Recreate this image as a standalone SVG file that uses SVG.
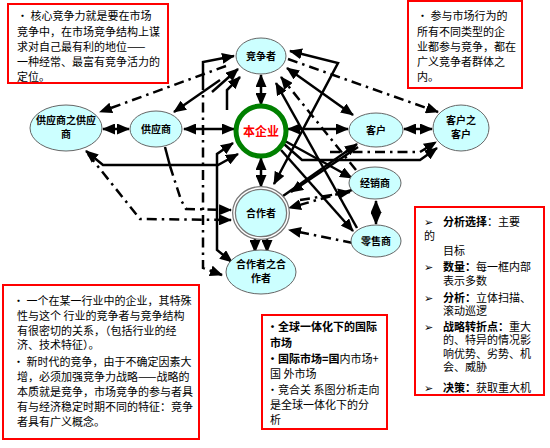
<svg xmlns="http://www.w3.org/2000/svg" width="550" height="448" viewBox="0 0 550 448">
<defs>
<marker id="ah" markerUnits="userSpaceOnUse" markerWidth="13" markerHeight="11" refX="12" refY="5.5" orient="auto-start-reverse">
<path d="M0,0 L13,5.5 L0,11 z" fill="#000"/>
</marker>
</defs>
<style>
.n{fill:#CCFFFF;stroke:#666;stroke-width:1}
.nt{font-family:"Noto Sans CJK SC",sans-serif;font-size:10px;font-weight:bold;fill:#000;text-anchor:middle}
.c path,.c line{fill:none;stroke:#000;stroke-width:2.5}
.c .d{stroke-dasharray:10 5 2.5 5}
.e{marker-end:url(#ah)}
.s{marker-start:url(#ah)}
.box{fill:#fff;stroke:#FF0000;stroke-width:2}
.t{font-family:"Noto Sans CJK SC",sans-serif;font-size:11px;fill:#000}
.b{font-weight:bold}
</style>
<rect width="550" height="448" fill="#fff"/>

<g class="c" id="connectors">
<line class="e s" x1="103" y1="129" x2="129" y2="129"/>
<line class="e s" x1="184" y1="129" x2="234" y2="129"/>
<line class="e s" x1="288" y1="129" x2="348" y2="129"/>
<line class="e s" x1="404" y1="129" x2="432" y2="129"/>
<line class="e s" x1="261" y1="75" x2="261" y2="105"/>
<line class="e s" x1="261" y1="158" x2="261" y2="187"/>
<line class="e s" x1="376" y1="201" x2="376" y2="224"/>
<line class="e" x1="255" y1="238" x2="255" y2="252"/>
<line class="e" x1="267" y1="238" x2="267" y2="252"/>
<path class="e" d="M203,80 L203,62 L234,56"/>
<path class="d e" d="M203,80 L203,268 L222,275"/>
<line class="e" x1="212" y1="92" x2="238" y2="69"/>
<path class="e" d="M227,110 L227,90 L240,77"/>
<line class="d e" x1="226" y1="66" x2="100" y2="112"/>
<line class="e" x1="220" y1="80" x2="174" y2="112"/>
<path class="e s" d="M86,151 L103,165 L218,165 L238,154"/>
<path class="e s" d="M233,143 L217,154 L217,250 L232,262"/>
<path d="M165,147 L170,166"/>
<path class="d e" d="M170,166 L181,200 L186,209 L231,210"/>
<path class="d e" d="M88,154 L140,219 L231,220"/>
<path class="e s" d="M290,51 L338,63 L274,184"/>
<line class="e s" x1="287" y1="68" x2="353" y2="115"/>
<line class="d e" x1="356" y1="170" x2="281" y2="77"/>
<line class="e" x1="357" y1="228" x2="276" y2="83"/>
<line class="d e" x1="288" y1="59" x2="438" y2="112"/>
<path class="e" d="M284,144 L302,160 L420,160 L437,148"/>
<path class="d e" d="M330,152 L420,152 L436,142"/>
<line class="e" x1="285" y1="141" x2="352" y2="178"/>
<line class="e" x1="281" y1="150" x2="353" y2="231"/>
<line class="e" x1="283" y1="196" x2="357" y2="144"/>
<line class="d e" x1="352" y1="190" x2="289" y2="208"/>
<line class="d e" x1="353" y1="243" x2="289" y2="230"/>
<line class="e" x1="358" y1="147" x2="291" y2="192"/>
<line class="d e" x1="300" y1="200" x2="350" y2="192"/>
</g>

<g id="n_competitor"><ellipse class="n" cx="261" cy="56" rx="25" ry="18"/><text class="nt" x="261" y="60">竞争者</text></g>
<g id="n_enterprise"><circle cx="261" cy="131" r="25" fill="#fff" stroke="#008000" stroke-width="5"/><text x="261" y="135.5" font-family="Noto Sans CJK SC,sans-serif" font-size="12" font-weight="bold" fill="#FF0000" text-anchor="middle">本企业</text></g>
<g id="n_supplier"><ellipse class="n" cx="156" cy="129" rx="26" ry="18"/><text class="nt" x="156" y="133">供应商</text></g>
<g id="n_supsup"><ellipse class="n" cx="66" cy="128" rx="36" ry="23"/><text class="nt" x="66" y="124">供应商之供应</text><text class="nt" x="66" y="138">商</text></g>
<g id="n_customer"><ellipse class="n" cx="376" cy="130" rx="27" ry="17"/><text class="nt" x="376" y="134">客户</text></g>
<g id="n_custcust"><ellipse class="n" cx="461" cy="128" rx="28" ry="23"/><text class="nt" x="461" y="124">客户之</text><text class="nt" x="461" y="138">客户</text></g>
<g id="n_distributor"><ellipse class="n" cx="375" cy="183" rx="26" ry="16"/><text class="nt" x="375" y="187">经销商</text></g>
<g id="n_retailer"><ellipse class="n" cx="376" cy="241" rx="25" ry="16"/><text class="nt" x="376" y="245">零售商</text></g>
<g id="n_cooperator"><ellipse cx="261" cy="213" rx="27" ry="25" fill="#CCFFFF" stroke="#777" stroke-width="4"/><ellipse cx="261" cy="213" rx="27" ry="25" fill="none" stroke="#fff" stroke-width="1.5"/><text class="nt" x="261" y="217">合作者</text></g>
<g id="n_coopcoop"><ellipse class="n" cx="261" cy="272" rx="35" ry="22"/><text class="nt" x="261" y="268">合作者之合</text><text class="nt" x="261" y="282">作者</text></g>

<g id="box_tl">
<rect class="box" x="8" y="4" width="160" height="79"/>
<text class="t" x="17" y="20">• 核心竞争力就是要在市场</text>
<text class="t" x="17" y="35.5">竞争中，在市场竞争结构上谋</text>
<text class="t" x="17" y="51">求对自己最有利的地位——</text>
<text class="t" x="17" y="66">一种经常、最富有竞争活力的</text>
<text class="t" x="17" y="80.5">定位。</text>
</g>
<g id="box_tr">
<rect class="box" x="408" y="1" width="114" height="87"/>
<text class="t" x="417" y="20" font-size="11.5">• 参与市场行为的</text>
<text class="t" x="417" y="36" font-size="11.5">所有不同类型的企</text>
<text class="t" x="417" y="51" font-size="11.5">业都参与竞争，都在</text>
<text class="t" x="417" y="66" font-size="11.5">广义竞争者群体之</text>
<text class="t" x="417" y="81" font-size="11.5">内。</text>
</g>
<g id="box_bl">
<rect class="box" x="3" y="285" width="196" height="154"/>
<text class="t" x="13" y="305">•  一个在某一行业中的企业，其特殊</text>
<text class="t" x="17" y="320">性与这个 行业的竞争者与竞争结构</text>
<text class="t" x="17" y="335">有很密切的关系，（包括行业的经</text>
<text class="t" x="17" y="349">济、技术特征）。</text>
<text class="t" x="13" y="366">• 新时代的竞争，由于不确定因素大</text>
<text class="t" x="17" y="381">增，必须加强竞争力战略——战略的</text>
<text class="t" x="17" y="396">本质就是竞争，市场竞争的参与者具</text>
<text class="t" x="17" y="411">有与经济稳定时期不同的特征：竞争</text>
<text class="t" x="17" y="426">者具有广义概念。</text>
</g>
<g id="box_bm">
<rect class="box" x="262" y="315" width="125" height="114"/>
<text class="t b" x="267" y="331" font-size="12">•全球一体化下的国际</text>
<text class="t b" x="270" y="347" font-size="12">市场</text>
<text class="t" x="267" y="363" font-size="12"><tspan font-weight="bold">•国际市场=国</tspan>内市场+</text>
<text class="t" x="270" y="378" font-size="12">国  外市场</text>
<text class="t" x="267" y="394" font-size="12">•竞合关 系图分析走向</text>
<text class="t" x="270" y="409" font-size="12">是全球一体化下的分</text>
<text class="t" x="270" y="424" font-size="12">析</text>
</g>
<g id="box_r">
<rect class="box" x="415" y="207" width="129" height="188"/>
<g class="t" font-size="11">
<text x="424" y="226">➢</text><text x="443" y="226"><tspan font-weight="bold">分析选择</tspan>：主要</text>
<text x="424" y="240">的</text>
<text x="443" y="255">目标</text>
<text x="424" y="271">➢</text><text x="443" y="271"><tspan font-weight="bold">数量：</tspan>每一框内部</text>
<text x="443" y="285">表示多数</text>
<text x="424" y="302">➢</text><text x="443" y="302"><tspan font-weight="bold">分析：</tspan>立体扫描、</text>
<text x="443" y="315">滚动巡逻</text>
<text x="424" y="331">➢</text><text x="443" y="331"><tspan font-weight="bold">战略转折点：</tspan>重大</text>
<text x="443" y="344">的、特异的情况影</text>
<text x="443" y="358">响优势、劣势、机</text>
<text x="443" y="371">会、威胁</text>
<text x="424" y="392">➢</text><text x="443" y="392"><tspan font-weight="bold">决策：</tspan>获取重大机</text>
</g>
<rect x="415" y="207" width="129" height="188" fill="none" stroke="#FF0000" stroke-width="2"/>
</g>
</svg>
